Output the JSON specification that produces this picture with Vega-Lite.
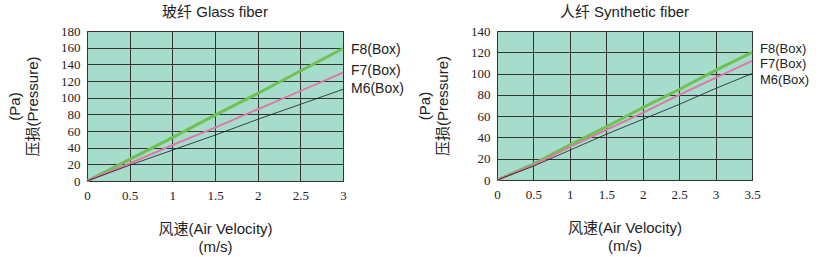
{
  "$schema": "https://vega.github.io/schema/vega-lite/v6.json",
  "padding": {"left": 7, "top": 4, "right": 4, "bottom": 4},
  "spacing": 12,
  "datasets": {
    "glass": [
      {"v": 0, "p": 0, "series": "F8(Box)"},
      {"v": 0.5, "p": 26, "series": "F8(Box)"},
      {"v": 1, "p": 52, "series": "F8(Box)"},
      {"v": 1.5, "p": 79, "series": "F8(Box)"},
      {"v": 2, "p": 105, "series": "F8(Box)"},
      {"v": 2.5, "p": 132, "series": "F8(Box)"},
      {"v": 3, "p": 159, "series": "F8(Box)"},
      {"v": 0, "p": 0, "series": "F7(Box)"},
      {"v": 0.5, "p": 21, "series": "F7(Box)"},
      {"v": 1, "p": 43, "series": "F7(Box)"},
      {"v": 1.5, "p": 64, "series": "F7(Box)"},
      {"v": 2, "p": 86, "series": "F7(Box)"},
      {"v": 2.5, "p": 108, "series": "F7(Box)"},
      {"v": 3, "p": 130, "series": "F7(Box)"},
      {"v": 0, "p": 0, "series": "M6(Box)"},
      {"v": 0.5, "p": 19, "series": "M6(Box)"},
      {"v": 1, "p": 37, "series": "M6(Box)"},
      {"v": 1.5, "p": 55, "series": "M6(Box)"},
      {"v": 2, "p": 74, "series": "M6(Box)"},
      {"v": 2.5, "p": 92, "series": "M6(Box)"},
      {"v": 3, "p": 110, "series": "M6(Box)"}
    ],
    "synth": [
      {"v": 0, "p": 0, "series": "F8(Box)"},
      {"v": 0.5, "p": 15, "series": "F8(Box)"},
      {"v": 1, "p": 33, "series": "F8(Box)"},
      {"v": 1.5, "p": 50, "series": "F8(Box)"},
      {"v": 2, "p": 68, "series": "F8(Box)"},
      {"v": 2.5, "p": 85, "series": "F8(Box)"},
      {"v": 3, "p": 103, "series": "F8(Box)"},
      {"v": 3.5, "p": 120, "series": "F8(Box)"},
      {"v": 0, "p": 0, "series": "F7(Box)"},
      {"v": 0.5, "p": 14, "series": "F7(Box)"},
      {"v": 1, "p": 31, "series": "F7(Box)"},
      {"v": 1.5, "p": 47, "series": "F7(Box)"},
      {"v": 2, "p": 63, "series": "F7(Box)"},
      {"v": 2.5, "p": 80, "series": "F7(Box)"},
      {"v": 3, "p": 96, "series": "F7(Box)"},
      {"v": 3.5, "p": 112, "series": "F7(Box)"},
      {"v": 0, "p": 0, "series": "M6(Box)"},
      {"v": 0.5, "p": 13, "series": "M6(Box)"},
      {"v": 1, "p": 28, "series": "M6(Box)"},
      {"v": 1.5, "p": 43, "series": "M6(Box)"},
      {"v": 2, "p": 57, "series": "M6(Box)"},
      {"v": 2.5, "p": 71, "series": "M6(Box)"},
      {"v": 3, "p": 86, "series": "M6(Box)"},
      {"v": 3.5, "p": 100, "series": "M6(Box)"}
    ]
  },
  "config": {
    "view": {"fill": "#a6dccb", "stroke": "#222222", "strokeWidth": 1},
    "axis": {
      "grid": true,
      "gridColor": "#333333",
      "gridOpacity": 1,
      "gridWidth": 1,
      "domain": false,
      "ticks": false,
      "format": "~f",
      "labelFont": "Liberation Serif",
      "labelFontSize": 13,
      "labelColor": "#222222",
      "labelPadding": 7,
      "titleFont": "Liberation Sans, Noto Sans CJK SC",
      "titleFontSize": 15,
      "titleFontWeight": "normal",
      "titleColor": "#222222",
      "titleLineHeight": 18
    },
    "axisY": {"titlePadding": 20},
    "axisX": {"titlePadding": 19, "labelPadding": 8, "labelFlush": false},
    "title": {
      "font": "Liberation Sans, Noto Sans CJK SC",
      "fontSize": 15,
      "fontWeight": "normal",
      "color": "#222222",
      "offset": 5
    }
  },
  "hconcat": [
    {
      "width": 256,
      "height": 150,
      "title": "玻纤  Glass fiber",
      "data": {"name": "glass"},
      "encoding": {
        "x": {"field": "v", "type": "quantitative", "scale": {"domain": [0, 3], "nice": false},
              "axis": {"values": [0, 0.5, 1, 1.5, 2, 2.5, 3], "title": ["风速(Air Velocity)", "(m/s)"]}},
        "y": {"field": "p", "type": "quantitative", "scale": {"domain": [0, 180], "nice": false},
              "axis": {"values": [0, 20, 40, 60, 80, 100, 120, 140, 160, 180], "title": ["(Pa)", "压损(Pressure)"]}}
      },
      "layer": [
        {
          "mark": {"type": "line"},
          "encoding": {
            "color": {"field": "series", "type": "nominal", "legend": null,
                      "scale": {"domain": ["M6(Box)", "F7(Box)", "F8(Box)"], "range": ["#1a1a1a", "#e274a8", "#6fc152"]}},
            "strokeWidth": {"field": "series", "type": "nominal", "legend": null,
                      "scale": {"domain": ["M6(Box)", "F7(Box)", "F8(Box)"], "range": [0.8, 3, 1.5]}}
          }
        },
        {
          "transform": [{"filter": "datum.v == 3 && datum.series == 'F8(Box)'"}],
          "mark": {"type": "text", "align": "left", "dx": 8, "dy": 1, "font": "Liberation Sans", "fontSize": 14, "color": "#222222"},
          "encoding": {"text": {"field": "series"}}
        },
        {
          "transform": [{"filter": "datum.v == 3 && datum.series == 'F7(Box)'"}],
          "mark": {"type": "text", "align": "left", "dx": 8, "dy": -2, "font": "Liberation Sans", "fontSize": 14, "color": "#222222"},
          "encoding": {"text": {"field": "series"}}
        },
        {
          "transform": [{"filter": "datum.v == 3 && datum.series == 'M6(Box)'"}],
          "mark": {"type": "text", "align": "left", "dx": 8, "dy": 0, "font": "Liberation Sans", "fontSize": 14, "color": "#222222"},
          "encoding": {"text": {"field": "series"}}
        }
      ]
    },
    {
      "width": 255,
      "height": 149,
      "title": "人纤  Synthetic fiber",
      "data": {"name": "synth"},
      "encoding": {
        "x": {"field": "v", "type": "quantitative", "scale": {"domain": [0, 3.5], "nice": false},
              "axis": {"values": [0, 0.5, 1, 1.5, 2, 2.5, 3, 3.5], "title": ["风速(Air Velocity)", "(m/s)"]}},
        "y": {"field": "p", "type": "quantitative", "scale": {"domain": [0, 140], "nice": false},
              "axis": {"values": [0, 20, 40, 60, 80, 100, 120, 140], "title": ["(Pa)", "压损(Pressure)"]}}
      },
      "layer": [
        {
          "mark": {"type": "line"},
          "encoding": {
            "color": {"field": "series", "type": "nominal", "legend": null,
                      "scale": {"domain": ["M6(Box)", "F7(Box)", "F8(Box)"], "range": ["#1a1a1a", "#e274a8", "#6fc152"]}},
            "strokeWidth": {"field": "series", "type": "nominal", "legend": null,
                      "scale": {"domain": ["M6(Box)", "F7(Box)", "F8(Box)"], "range": [0.8, 3, 1.5]}}
          }
        },
        {
          "transform": [{"filter": "datum.v == 3.5 && datum.series == 'F8(Box)'"}],
          "mark": {"type": "text", "align": "left", "dx": 8, "dy": -3, "font": "Liberation Sans", "fontSize": 13, "color": "#222222"},
          "encoding": {"text": {"field": "series"}}
        },
        {
          "transform": [{"filter": "datum.v == 3.5 && datum.series == 'F7(Box)'"}],
          "mark": {"type": "text", "align": "left", "dx": 8, "dy": 3, "font": "Liberation Sans", "fontSize": 13, "color": "#222222"},
          "encoding": {"text": {"field": "series"}}
        },
        {
          "transform": [{"filter": "datum.v == 3.5 && datum.series == 'M6(Box)'"}],
          "mark": {"type": "text", "align": "left", "dx": 8, "dy": 6, "font": "Liberation Sans", "fontSize": 13, "color": "#222222"},
          "encoding": {"text": {"field": "series"}}
        }
      ]
    }
  ]
}
